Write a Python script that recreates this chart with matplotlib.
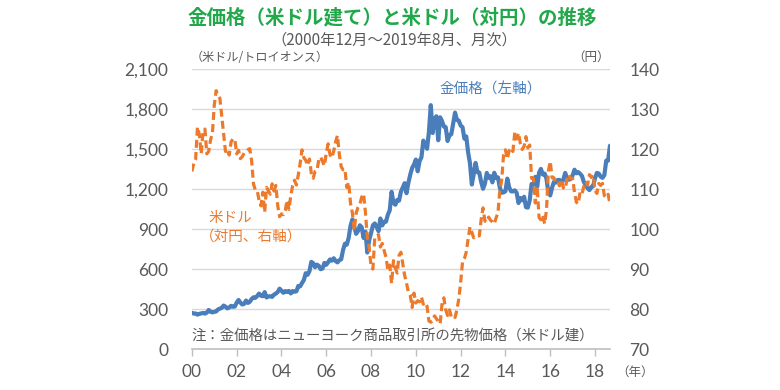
import matplotlib
matplotlib.use("Agg")
import matplotlib.pyplot as plt
import numpy as np

plt.rcParams['font.family'] = ['Noto Sans CJK JP', 'DejaVu Sans']

# month-end values, 2000-12 .. 2019-08
gold = [272,
        266, 267, 258, 264, 267, 271, 266, 273, 293, 279, 275, 279,
        282, 297, 303, 309, 326, 318, 305, 312, 324, 317, 319, 348,
        368, 348, 334, 339, 364, 346, 354, 375, 388, 384, 398, 416,
        400, 396, 427, 387, 394, 396, 391, 408, 416, 428, 453, 438,
        422, 435, 428, 436, 417, 435, 430, 433, 473, 470, 495, 518,
        569, 557, 584, 654, 644, 614, 633, 624, 599, 604, 646, 632,
        651, 672, 663, 681, 660, 650, 666, 673, 743, 790, 783, 834,
        924, 972, 917, 864, 885, 928, 913, 833, 880, 724, 816, 870,
        928, 942, 916, 884, 979, 927, 954, 955, 1008, 1040, 1179, 1097,
        1082, 1118, 1113, 1180, 1212, 1244, 1169, 1247, 1308, 1358, 1384, 1421,
        1333, 1409, 1439, 1563, 1536, 1502, 1628, 1829, 1620, 1725, 1746, 1566,
        1738, 1710, 1669, 1664, 1560, 1604, 1611, 1692, 1773, 1719, 1713, 1676,
        1664, 1578, 1595, 1476, 1393, 1234, 1312, 1396, 1327, 1323, 1253, 1202,
        1240, 1321, 1284, 1296, 1250, 1322, 1282, 1287, 1210, 1172, 1175, 1184,
        1278, 1213, 1183, 1182, 1190, 1172, 1095, 1133, 1115, 1142, 1064, 1061,
        1116, 1238, 1233, 1291, 1216, 1322, 1351, 1309, 1316, 1277, 1173, 1152,
        1211, 1254, 1249, 1268, 1268, 1242, 1270, 1321, 1283, 1270, 1275, 1303,
        1345, 1318, 1327, 1315, 1298, 1253, 1232, 1206, 1192, 1215, 1222, 1282,
        1321, 1316, 1293, 1284, 1305, 1413, 1413, 1525]

usdjpy = [114.4,
          116.4, 117.4, 125.5, 123.6, 118.8, 124.6, 125.0, 118.8, 119.4, 122.3, 123.9, 131.0,
          134.6, 133.4, 132.7, 128.3, 124.0, 119.4, 120.0, 118.5, 121.8, 122.5, 122.5, 118.8,
          119.7, 117.6, 118.1, 119.0, 119.4, 119.8, 120.1, 117.1, 111.3, 109.7, 109.6, 107.2,
          105.8, 109.2, 104.2, 110.4, 109.6, 108.7, 111.3, 109.5, 110.9, 105.8, 103.1, 103.8,
          103.6, 104.6, 107.2, 104.9, 108.3, 110.9, 112.2, 111.0, 113.5, 116.4, 119.8, 117.8,
          117.2, 115.9, 117.5, 113.9, 112.7, 114.4, 114.6, 117.3, 118.0, 116.9, 115.8, 119.0,
          121.3, 118.6, 117.8, 119.5, 121.8, 123.4, 118.6, 115.6, 114.8, 115.0, 110.4, 111.7,
          106.4, 104.0, 99.7, 104.0, 105.4, 106.2, 108.0, 108.8, 104.1, 97.8, 95.4, 90.6,
          90.0, 98.0, 98.3, 98.6, 95.5, 96.4, 94.6, 93.0, 89.8, 91.0, 86.4, 92.1,
          90.3, 89.0, 93.4, 94.2, 91.3, 88.4, 86.5, 84.2, 83.5, 80.4, 84.0, 81.5,
          82.1, 81.8, 83.0, 81.2, 81.6, 80.7, 77.0, 76.7, 77.1, 78.3, 77.6, 76.9,
          76.3, 81.2, 82.8, 79.8, 78.4, 79.8, 78.1, 78.4, 77.9, 79.8, 82.5, 86.6,
          91.7, 92.6, 94.2, 97.5, 100.5, 99.2, 97.8, 98.2, 98.3, 98.3, 102.4, 105.3,
          102.0, 101.8, 103.0, 102.2, 101.8, 101.3, 102.8, 104.1, 109.6, 112.3, 118.6, 119.8,
          117.5, 119.6, 120.2, 119.4, 124.1, 122.5, 124.0, 121.4, 119.9, 120.7, 123.1, 120.3,
          121.0, 112.7, 112.6, 106.5, 110.7, 102.9, 102.3, 103.4, 101.3, 104.8, 114.5, 116.9,
          112.8, 112.8, 111.4, 111.5, 110.8, 112.4, 110.3, 110.0, 112.5, 113.6, 112.5, 112.7,
          109.2, 106.7, 106.3, 109.3, 108.8, 110.7, 111.8, 111.0, 113.6, 112.9, 113.5, 109.7,
          108.9, 111.4, 110.9, 111.4, 108.3, 107.9, 108.7, 106.3]

year_labels = ['00', '02', '04', '06', '08', '10', '12', '14', '16', '18']
left_ticks = [0, 300, 600, 900, 1200, 1500, 1800, 2100]
right_ticks = [70, 80, 90, 100, 110, 120, 130, 140]

months = np.arange(len(gold))
tick_pos = np.arange(len(year_labels)) * 24

text_col = '#595959'
blue = '#4A7EBB'
orange = '#EC7A2C'

fig = plt.figure(figsize=(7.8, 3.9), dpi=100)
ax = fig.add_axes([0.246, 0.105, 0.536, 0.718])
ax2 = ax.twinx()

ax.plot(months, gold, color=blue, lw=3.0, solid_capstyle='round', zorder=3)
ax2.plot(months, usdjpy, color=orange, lw=2.3, dashes=(2.5, 1.3), zorder=3)

ax.set_xlim(0, len(gold) - 1)
ax.set_ylim(0, 2100)
ax2.set_ylim(70, 140)
ax.set_yticks(left_ticks)
ax.set_yticklabels([f'{v:,}' for v in left_ticks])
ax2.set_yticks(right_ticks)
ax.set_xticks(tick_pos)
ax.set_xticklabels(year_labels)

ax.grid(axis='y', color='#D9D9D9', lw=1)
ax.set_axisbelow(True)
for a in (ax, ax2):
    for s in a.spines.values():
        s.set_visible(False)
ax.spines['bottom'].set_visible(True)
ax.spines['bottom'].set_color('#BFBFBF')
ax.spines['bottom'].set_linewidth(1.2)

ax.tick_params(axis='y', length=0, pad=17, labelsize=12.5, labelcolor=text_col)
ax2.tick_params(axis='y', length=0, pad=14, labelsize=12.5, labelcolor=text_col)
ax.tick_params(axis='x', length=5, width=1, color='#BFBFBF', pad=6,
               labelsize=12.5, labelcolor=text_col)
for lab in ax.get_xticklabels() + ax.get_yticklabels() + ax2.get_yticklabels():
    lab.set_family(['Lato', 'DejaVu Sans'])

fig.text(0.503, 0.955, '金価格（米ドル建て）と米ドル（対円）の推移', ha='center', va='center',
         fontsize=14, fontweight='bold', color='#22A84A')
fig.text(0.505, 0.898, '（2000年12月～2019年8月、月次）', ha='center', va='center',
         fontsize=11, color=text_col)
fig.text(0.244, 0.852, '（米ドル/トロイオンス）', ha='left', va='center',
         fontsize=8.7, color=text_col)
fig.text(0.782, 0.852, '（円）', ha='right', va='center', fontsize=9, color=text_col)
fig.text(0.790, 0.045, '（年）', ha='left', va='center', fontsize=9, color=text_col)

ax.text(0.593, 0.925, '金価格（左軸）', transform=ax.transAxes, ha='left', va='center',
        fontsize=10.5, color=blue)
ax.text(0.04, 0.468, '米ドル', transform=ax.transAxes, ha='left', va='center',
        fontsize=10.5, color=orange)
ax.text(0.02, 0.40, '（対円、右軸）', transform=ax.transAxes, ha='left', va='center',
        fontsize=10.5, color=orange)
ax.text(0.0, 0.043, '注：金価格はニューヨーク商品取引所の先物価格（米ドル建）',
        transform=ax.transAxes, ha='left', va='center', fontsize=10.4, color=text_col)

fig.savefig('out.png', dpi=100)
